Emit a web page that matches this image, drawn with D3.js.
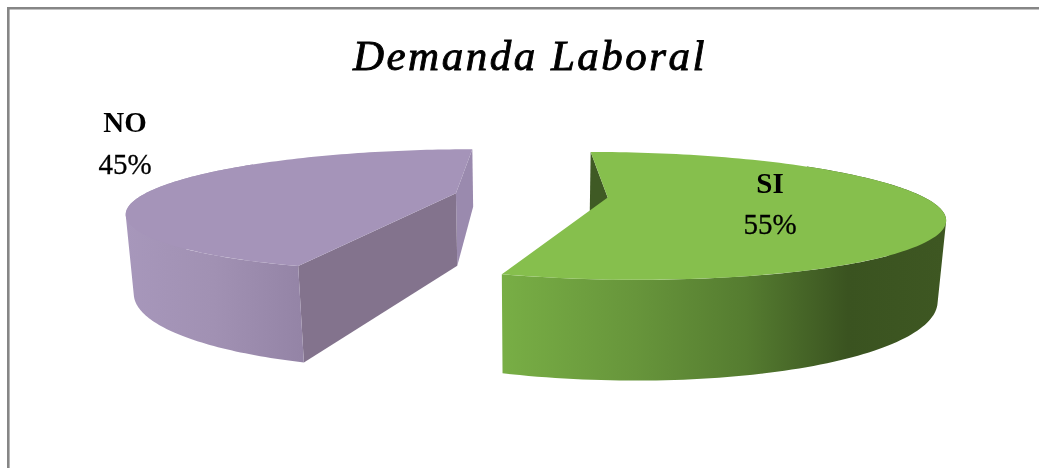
<!DOCTYPE html>
<html><head><meta charset="utf-8">
<script src="https://cdn.jsdelivr.net/npm/d3@7"></script>
<style>html,body{margin:0;padding:0;background:#fff;overflow:hidden}svg{display:block;filter:blur(0.45px)}</style>
</head><body><div id="c"></div>
<script>
const chartTitle = "Demanda Laboral";
const categories = ["SI", "NO"];
const values = [55, 45];
const width = 1039, height = 468;

// perspective model of an exploded 3D pie (radius = 1 on the ground plane)
const cam = {xv: 531, yh: -8, F: 1110, D: 3.54, H: 720, explode: 0.245, z: 0.066, Vx: 530, Vy: 4200};
function project(X, Y, Z) {
  const w = cam.D + Y, z = Z;
  const x = cam.xv + cam.F * X / w, y = cam.yh + cam.H / w;
  return [(x * w + z * cam.Vx) / (w + z), (y * w + z * cam.Vy) / (w + z)];
}
const svg = d3.select("#c").append("svg").attr("width", width).attr("height", height);
const defs = svg.append("defs");
function grad(id, x1, x2, stops) {
  const g = defs.append("linearGradient").attr("id", id).attr("gradientUnits", "userSpaceOnUse")
    .attr("x1", x1).attr("x2", x2).attr("y1", 0).attr("y2", 0);
  stops.forEach(s => g.append("stop").attr("offset", s[0]).attr("stop-color", s[1]));
}
grad("gw", 503, 945, [[0, "#78ae45"], [0.3, "#67953b"], [0.55, "#557c30"], [0.78, "#3a5320"], [1, "#3e5722"]]);
grad("pw", 125, 302, [[0, "#a797bb"], [0.5, "#a191b3"], [1, "#9484a6"]]);

const styles = {
  SI: {top: "#86bf4d", outer: "url(#gw)", startWall: "#3f5a24", endWall: "#3f5a24", arcFrom: 0.9},
  NO: {top: "#a594b9", outer: "url(#pw)", startWall: "#9a8aae", endWall: "#83738d", arcTo: 5.35}
};
const pie = d3.pie().sort(null).startAngle(0).endAngle(2 * Math.PI);
const arcs = pie(values);
const line = d3.line();
arcs.forEach((a, i) => {
  const st = styles[categories[i]];
  const mid = (a.startAngle + a.endAngle) / 2;
  const ox = cam.explode * Math.sin(mid), oy = cam.explode * Math.cos(mid);
  const P = (ang, r, z) => project(ox + r * Math.sin(ang), oy + r * Math.cos(ang), z);
  const angs = (s, e) => d3.range(0, 121).map(k => s + (e - s) * k / 120);
  const g = svg.append("g");
  const radial = (ang, fill) => g.append("path")
    .attr("d", line([P(ang, 0, 0), P(ang, 1, 0), P(ang, 1, cam.z), P(ang, 0, cam.z)]) + "Z")
    .attr("fill", fill);
  if (i === 0) {
    radial(a.startAngle, st.startWall);
  } else {
    radial(a.endAngle, st.startWall);
    radial(a.startAngle, st.endWall);
  }
  const s = st.arcFrom !== undefined ? st.arcFrom : a.startAngle;
  const e = st.arcTo !== undefined ? st.arcTo : a.endAngle;
  const list = angs(s, e);
  // outer wall as a union of same-orientation quads, so the fold at the silhouette stays filled
  const quads = d3.pairs(list).map(([t0, t1]) => {
    const q = [P(t0, 1, 0), P(t1, 1, 0), P(t1, 1, cam.z), P(t0, 1, cam.z)];
    return line(d3.polygonArea(q) < 0 ? q.reverse() : q) + "Z";
  }).join("");
  g.append("path").attr("d", quads).attr("fill", st.outer);
  g.append("path")
    .attr("d", line([P(0, 0, 0)].concat(angs(a.startAngle, a.endAngle).map(t => P(t, 1, 0)))) + "Z")
    .attr("fill", st.top);
});

// chart frame
svg.append("path").attr("d", `M8.3,${height}V8.3H${width}`).attr("fill", "none").attr("stroke", "#868686").attr("stroke-width", 2.6);

// title
svg.append("text").attr("x", 530).attr("y", 70).attr("text-anchor", "middle")
  .attr("font-family", "Liberation Serif").attr("font-style", "italic").attr("font-size", 43)
  .attr("letter-spacing", 2.5).attr("stroke", "#000").attr("stroke-width", 0.9).attr("fill", "#000").text(chartTitle);

// data labels
const labelPos = {SI: [770, 193, 770, 234], NO: [125, 132, 125, 174]};
categories.forEach((c, i) => {
  const p = labelPos[c];
  svg.append("text").attr("x", p[0]).attr("y", p[1]).attr("text-anchor", "middle")
    .attr("font-family", "Liberation Serif").attr("font-weight", "bold").attr("font-size", 29).attr("fill", "#000").text(c);
  svg.append("text").attr("x", p[2]).attr("y", p[3]).attr("text-anchor", "middle")
    .attr("font-family", "Liberation Serif").attr("font-size", 29).attr("stroke", "#000").attr("stroke-width", 0.3).attr("fill", "#000").text(values[i] + "%");
});
</script></body></html>
